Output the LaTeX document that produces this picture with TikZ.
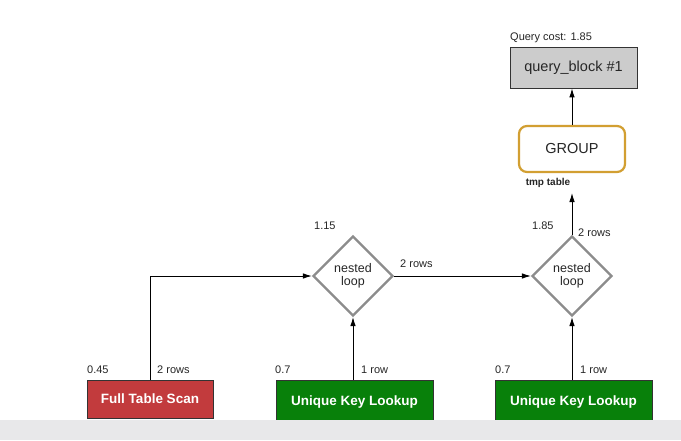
\documentclass[tikz,border=0pt]{standalone}
\usepackage{fontspec}
\setmainfont{Liberation Sans}
\usetikzlibrary{shapes.geometric,arrows.meta}
\definecolor{redbox}{HTML}{C23B3D}
\definecolor{greenbox}{HTML}{08800A}
\definecolor{goldline}{HTML}{D29F32}
\definecolor{diamline}{HTML}{8C8C8C}
\definecolor{qbfill}{HTML}{CCCCCC}
\definecolor{band}{HTML}{E8E8EA}
\tikzset{
  lbl/.style={font=\fontsize{11}{12}\selectfont, inner sep=0pt, anchor=base west, text=black!85},
  oprbox/.style={draw=black!80, line width=0.8pt, text=white, font=\fontsize{13.5}{15}\selectfont\bfseries, inner sep=0pt},
  nl/.style={diamond, draw=diamline, line width=2.2pt, minimum width=80pt, minimum height=80pt, inner sep=0pt, align=center, font=\fontsize{12.5}{13}\selectfont, text=black!85},
  conn/.style={line width=0.9pt, -{Latex[length=9pt,width=5.5pt]}},
}
\begin{document}
\begin{tikzpicture}[x=1pt,y=-1pt]
\useasboundingbox (0,0) rectangle (681,440);
\fill[white] (0,0) rectangle (681,440);
% query block
\node[draw=black!80, line width=0.8pt, fill=qbfill, minimum width=127pt, minimum height=41pt, inner sep=0pt, font=\fontsize{14.5}{15}\selectfont, text=black!85] (qb) at (573.5,67.5) {query\_block \#1};
\node[lbl] (qcost) at (510,40) {Query cost: 1.85};
% group
\node[draw=goldline, line width=2.2pt, rounded corners=8pt, minimum width=106pt, minimum height=46pt, inner sep=0pt, font=\fontsize{14.5}{15}\selectfont, text=black!85] (grp) at (572,149) {GROUP};
\node[font=\fontsize{10}{11}\selectfont\bfseries, inner sep=0pt, text=black!85] (tmp) at (548,183) {tmp table};
\coordinate (tmpin) at (572,193);
% diamonds
\node[nl] (d1) at (353,276) {nested\\loop};
\node[nl] (d2) at (572,276) {nested\\loop};
% bottom boxes
\node[oprbox, fill=redbox, minimum width=126pt, minimum height=38pt] (fts) at (150,399) {Full Table Scan};
\node[oprbox, fill=greenbox, minimum width=157pt, minimum height=46pt, anchor=north] (uk1) at (354.5,380) {\raisebox{6pt}{Unique Key Lookup}};
\node[oprbox, fill=greenbox, minimum width=157pt, minimum height=46pt, anchor=north] (uk2) at (573.5,380) {\raisebox{6pt}{Unique Key Lookup}};
% band
\fill[band] (0,420) rectangle (681,440);
% connectors
\draw[conn] (fts.north) |- (d1.west);
\draw[conn] (d1.south |- uk1.north) -- (d1.south);
\draw[conn] (d2.south |- uk2.north) -- (d2.south);
\draw[conn] (d1.east) -- (d2.west);
\draw[conn] (d2.north) -- (tmpin);
\draw[conn] (grp.north) -- (grp.north |- qb.south);
% labels
\node[lbl] (l1) at (314,229) {1.15};
\node[lbl] (l2) at (400,267) {2 rows};
\node[lbl] (l3) at (532,229) {1.85};
\node[lbl] (l4) at (578,236) {2 rows};
\node[lbl] (l5) at (87,373) {0.45};
\node[lbl] (l6) at (157,373) {2 rows};
\node[lbl] (l7) at (275,373) {0.7};
\node[lbl] (l8) at (361,373) {1 row};
\node[lbl] (l9) at (495,373) {0.7};
\node[lbl] (l10) at (580,373) {1 row};
\end{tikzpicture}
\end{document}
